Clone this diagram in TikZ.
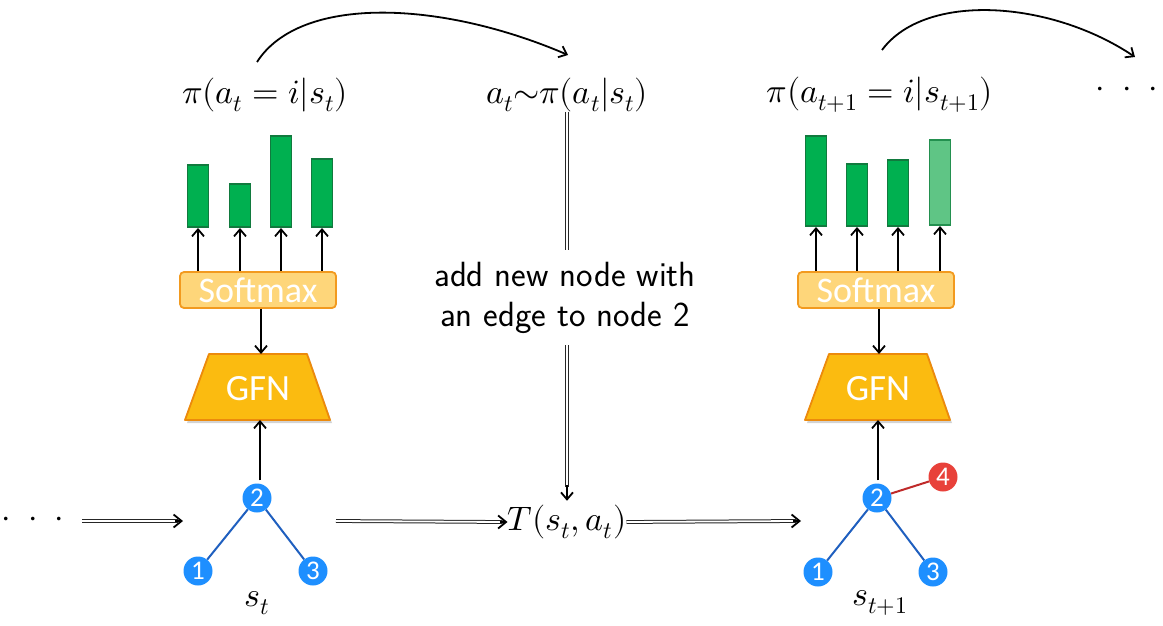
\documentclass[tikz,border=0pt]{standalone}
\usepackage{fontspec}
\usepackage{unicode-math}
\setmathfont{Latin Modern Math}
\newfontfamily\carl{Carlito}
\usetikzlibrary{arrows.meta,shadows,calc}
\definecolor{barG}{HTML}{00B050}
\definecolor{barD}{HTML}{117A3E}
\definecolor{barL}{HTML}{5FC585}
\definecolor{barLD}{HTML}{23904F}
\definecolor{smF}{HTML}{FED67A}
\definecolor{smD}{HTML}{F29A1F}
\definecolor{gfnF}{HTML}{FBBB10}
\definecolor{gfnD}{HTML}{EC8A0C}
\definecolor{nodeB}{HTML}{1E8FFF}
\definecolor{edgeB}{HTML}{1F5FBF}
\definecolor{nodeR}{HTML}{E8413A}
\definecolor{edgeR}{HTML}{BF2A2A}
\begin{document}
\begin{tikzpicture}[x=1pt,y=-1pt,
  bar/.style={draw=barD, fill=barG, line width=1.8pt, minimum width=21, inner sep=0, anchor=south},
  barlight/.style={bar, draw=barLD, fill=barL},
  arr/.style={line width=1.8pt, -{Straight Barb[length=7pt,width=12pt]}},
  smbox/.style={draw=smD, fill=smF, line width=1.8pt, rounded corners=4pt, minimum width=156, minimum height=36, inner sep=0, text=white, font=\carl\fontsize{36}{36}\selectfont},
  gfnshape/.style={draw=gfnD, fill=gfnF, line width=1.8pt, line join=round, drop shadow={shadow xshift=2pt, shadow yshift=-3pt, opacity=0.35}},
  gfntext/.style={text=white, font=\carl\fontsize{37}{38}\selectfont, inner sep=0},
  gn/.style={circle, fill=nodeB, minimum size=29, inner sep=0, text=white, font=\carl\fontsize{27}{27}\selectfont},
  rn/.style={gn, fill=nodeR},
  tedge/.style={draw=edgeB, line width=2pt},
  redge/.style={draw=edgeR, line width=2pt},
  dbl/.style={double=white, double distance=1.8pt, line width=1pt, draw=black!85},
  tip/.style={line width=1.8pt, -{Straight Barb[length=8pt,width=13pt]}},
  mlab/.style={font=\fontsize{34}{36}\selectfont, inner sep=0},
  slab/.style={font=\sffamily\fontsize{35}{40}\selectfont, align=center, inner sep=2pt},
]
\useasboundingbox (0,0) rectangle (1163,626);

% ---------- top labels ----------
\node[mlab] (pil) at (265,95) {$\pi(a_t = i|s_t)$};
\node[mlab] (samp) at (567,95) {$a_t{\sim}\pi(a_t|s_t)$};
\node[mlab] (pir) at (880,95) {$\pi(a_{t+1} = i|s_{t+1})$};
\node[mlab] (dotsR) at (1127,92) {$\cdot\;\cdot\;\cdot$};

% curved arrows
\coordinate (c1s) at (257,62);
\coordinate (c1e) at (568,55);
\coordinate (c2s) at (882,50);
\coordinate (c2e) at (1135,57);
\draw[arr] (c1s) .. controls (300,-5) and (440,0) .. (c1e);
\draw[arr] (c2s) .. controls (925,-8) and (1050,0) .. (c2e);

% ---------- left column ----------
\node[smbox] (sm1) at (258,290) {Softmax};
\node[bar, minimum height=62] (b1) at (198,228) {};
\node[bar, minimum height=43] (b2) at (240,228) {};
\node[bar, minimum height=91] (b3) at (281,228) {};
\node[bar, minimum height=68] (b4) at (322,228) {};
\foreach \b in {b1,b2,b3,b4} \draw[arr] (\b |- sm1.north) -- (\b.south);

\coordinate (g1tl) at (209,354);
\coordinate (g1tr) at (307,354);
\coordinate (g1br) at (330,420);
\coordinate (g1bl) at (185,420);
\path[gfnshape] (g1tl) -- (g1tr) -- (g1br) -- (g1bl) -- cycle;
\node[gfntext] (gfn1) at (258,389) {GFN};
\coordinate (g1top) at (261,354);
\coordinate (g1bot) at (260,420);
\draw[arr] (sm1.south -| g1top) -- (g1top);

% left tree
\node[gn] (l2) at (257,498) {2};
\node[gn] (l1) at (198,571) {1};
\node[gn] (l3) at (313,571) {3};
\draw[tedge] (l2) -- (l1);
\draw[tedge] (l2) -- (l3);
\draw[arr] ($(l2.north)+(3,-3)$) -- (g1bot);
\node[mlab] (st) at (257,603) {$s_t$};

% ---------- right column ----------
\node[smbox] (sm2) at (876,290) {Softmax};
\node[bar, minimum height=90] (r1) at (816,227) {};
\node[bar, minimum height=62] (r2) at (857,227) {};
\node[bar, minimum height=66] (r3) at (898,227) {};
\node[barlight, minimum height=85] (r4) at (940,226) {};
\foreach \b in {r1,r2,r3,r4} \draw[arr] (\b |- sm2.north) -- (\b.south);

\coordinate (g2tl) at (829,354);
\coordinate (g2tr) at (927,354);
\coordinate (g2br) at (950,420);
\coordinate (g2bl) at (805,420);
\path[gfnshape] (g2tl) -- (g2tr) -- (g2br) -- (g2bl) -- cycle;
\node[gfntext] (gfn2) at (878,389) {GFN};
\coordinate (g2top) at (879,354);
\coordinate (g2bot) at (878,420);
\draw[arr] (sm2.south -| g2top) -- (g2top);

% right tree
\node[gn] (q2) at (877,498) {2};
\node[gn] (q1) at (818,572) {1};
\node[gn] (q3) at (933,572) {3};
\node[rn] (q4) at (943,477) {4};
\draw[tedge] (q2) -- (q1);
\draw[tedge] (q2) -- (q3);
\draw[redge] (q2) -- (q4);
\draw[arr] ($(q2.north)+(1,-3)$) -- (g2bot);
\node[mlab] (st1) at (880,603) {$s_{t+1}$};

% ---------- bottom flow ----------
\node[mlab] (dotsL) at (33,522) {$\cdot\;\cdot\;\cdot$};
\node[mlab] (T) at (567,522) {$T(s_t,a_t)$};
\coordinate (srcL) at (82,521);
\coordinate (inL) at (183,521);
\coordinate (outL) at (336,521);
\coordinate (inR) at (801,521);
\draw[dbl] (srcL) -- ($(inL)+(-5,0)$);
\draw[tip] ($(inL)+(-8,0)$) -- (inL);
\draw[dbl] (outL) -- ($(T.west)+(-5,0)$);
\draw[tip] ($(T.west)+(-8,0)$) -- (T.west);
\draw[dbl] (T.east) -- ($(inR)+(-5,0)$);
\draw[tip] ($(inR)+(-8,0)$) -- (inR);

% ---------- middle vertical ----------
\node[slab] (txt) at (565,298) {add new node with\\an edge to node 2};
\coordinate (vtop) at (567,112);
\coordinate (vmid1) at (567,250);
\coordinate (vmid2) at (567,345);
\draw[dbl] (vtop) -- (vmid1);
\draw[dbl] (vmid2) -- ($(T.north)+(0,-18)$);
\draw[arr] ($(T.north)+(0,-20)$) -- ($(T.north)+(0,-4)$);
\end{tikzpicture}
\end{document}
